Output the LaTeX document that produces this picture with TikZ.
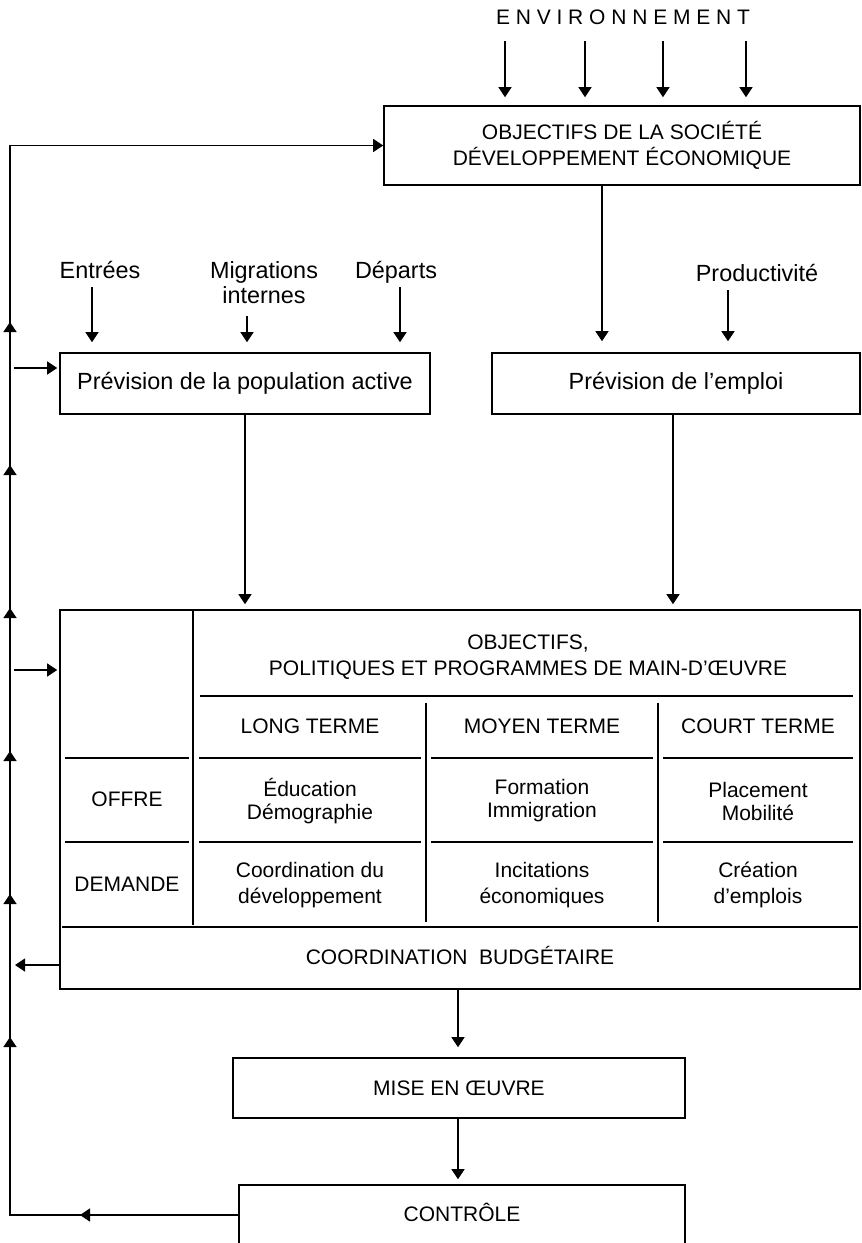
\documentclass[tikz,border=0pt]{standalone}
\usepackage{fontspec}
\setmainfont{Liberation Sans}
\usetikzlibrary{arrows.meta}
\begin{document}
\begin{tikzpicture}[x=0.5pt,y=-0.5pt,
  font=\fontsize{10.5}{13}\selectfont,
  tip/.style={-{Triangle[length=5pt,width=6.5pt]}},
  arr/.style={tip, line width=0.7pt},
  box/.style={draw, line width=0.8pt, align=center, inner sep=0pt},
  lbl/.style={align=center, inner sep=1pt},
  one/.style={text height=1.6ex, text depth=0.45ex},
  big/.style={font=\fontsize{11.7}{12.5}\selectfont},
  rule/.style={line width=0.7pt}]
\useasboundingbox (0,0) rectangle (862,1243);

% ---------- top ----------
\node[lbl, one] (env) at (623,18) {E\hspace{2.9pt}N\hspace{2.9pt}V\hspace{2.9pt}I\hspace{2.9pt}R\hspace{2.9pt}O\hspace{2.9pt}N\hspace{2.9pt}N\hspace{2.9pt}E\hspace{2.9pt}M\hspace{2.9pt}E\hspace{2.9pt}N\hspace{2.9pt}T};
\node[box, minimum width=238pt, minimum height=39.5pt] (obj) at (622,145.5)
  {OBJECTIFS DE LA SOCIÉTÉ\\DÉVELOPPEMENT ÉCONOMIQUE};

\foreach \x [count=\i] in {505,585,663,746} {
  \coordinate (e\i) at (\x,0);
  \draw[arr, shorten <=5pt, shorten >=4pt] (env.south -| e\i) -- (obj.north -| e\i);
}

% ---------- forecasts ----------
\node[lbl, one, big] (ent) at (100,272) {Entrées};
\node[lbl, big] (mig) at (264,283) {Migrations\\internes};
\node[lbl, one, big] (dep) at (396,272) {Départs};
\node[lbl, one, big] (prod) at (757,275) {Productivité};

\node[box, big, minimum width=185pt, minimum height=30.5pt] (pop) at (245,383.5) {Prévision de la population active};
\node[box, big, minimum width=184pt, minimum height=30.5pt] (emp) at (676,383.5) {Prévision de l’emploi};

\coordinate (xe) at (92,0);
\coordinate (xm) at (247,0);
\coordinate (xd) at (400,0);
\coordinate (xo) at (602,0);
\coordinate (xp) at (728,0);
\draw[arr, shorten <=1pt, shorten >=5pt] (ent.south -| xe) -- (pop.north -| xe);
\draw[arr, shorten <=5pt, shorten >=5pt] (mig.south -| xm) -- (pop.north -| xm);
\draw[arr, shorten <=1pt, shorten >=5pt] (dep.south -| xd) -- (pop.north -| xd);
\draw[arr, shorten >=5.5pt] (obj.south -| xo) -- (emp.north -| xo);
\draw[arr, shorten <=1pt, shorten >=5.5pt] (prod.south -| xp) -- (emp.north -| xp);

% ---------- table ----------
\node[draw, line width=0.8pt, minimum width=400pt, minimum height=189.5pt, inner sep=0pt] (tab) at (460,799.5) {};
\coordinate (xpop) at (245,0);
\coordinate (xemp) at (673,0);
\draw[arr, shorten >=2.5pt] (pop.south -| xpop) -- (tab.north -| xpop);
\draw[arr, shorten >=2.5pt] (emp.south -| xemp) -- (tab.north -| xemp);

\draw[rule] (193,610) -- (193,925);
\draw[rule] (426,703) -- (426,922);
\draw[rule] (658,703) -- (658,922);
\draw[rule] (200,696) -- (853,696);
\foreach \y in {758,842} {
  \draw[rule] (65,\y) -- (189,\y);
  \draw[rule] (199,\y) -- (421,\y);
  \draw[rule] (431,\y) -- (653,\y);
  \draw[rule] (663,\y) -- (853,\y);
}
\draw[rule] (62,927) -- (858,927);

\node[lbl] (title) at (528,657) {OBJECTIFS,\\POLITIQUES ET PROGRAMMES DE MAIN-D’ŒUVRE};
\node[lbl, one] (lt) at (310,727) {LONG TERME};
\node[lbl, one] (mt) at (542,727) {MOYEN TERME};
\node[lbl, one] (ct) at (758,727) {COURT TERME};
\node[lbl, one] (off) at (127,800) {OFFRE};
\node[lbl, font=\fontsize{10.5}{11.5}\selectfont] (off1) at (310,801) {Éducation\\Démographie};
\node[lbl, font=\fontsize{10.5}{11.5}\selectfont] (off2) at (542,801) {Formation\\Immigration};
\node[lbl, font=\fontsize{10.5}{11.5}\selectfont] (off3) at (758,801) {Placement\\Mobilité};
\node[lbl, one] (dem) at (127,885) {DEMANDE};
\node[lbl] (dem1) at (310,885) {Coordination du\\développement};
\node[lbl] (dem2) at (542,885) {Incitations\\économiques};
\node[lbl] (dem3) at (758,885) {Création\\d’emplois};
\node[lbl, one] (cb) at (460,958) {COORDINATION\ \ BUDGÉTAIRE};

% ---------- bottom ----------
\node[box, minimum width=226pt, minimum height=30pt] (mise) at (459,1088) {MISE EN ŒUVRE};
\node[box, minimum width=223pt, minimum height=35pt] (ctrl) at (462,1220) {};
\node[lbl, one] (ctrltxt) at (462,1215) {CONTRÔLE};
\coordinate (xb) at (458,0);
\draw[arr, shorten >=5pt] (tab.south -| xb) -- (mise.north -| xb);
\draw[arr, shorten >=2.5pt] (mise.south -| xb) -- (ctrl.north -| xb);

% ---------- feedback loop ----------
\coordinate (fbl) at (10,1215);
\coordinate (fbt) at (10,145.5);
\draw[arr] (ctrl.west |- ctrltxt) -- (fbl) -- (fbt) -- (obj.west);
% arrowheads along the loop
\coordinate (h0) at (80,1215);
\draw[arr] ([xshift=6pt]h0) -- (h0);
\foreach \y [count=\k] in {322,465,608,751,894,1037} {
  \coordinate (u\k) at (10,\y);
  \draw[arr] ([yshift=-6pt]u\k) -- (u\k);
}

\coordinate (f1) at (14,368);
\coordinate (f2) at (14,670);
\coordinate (f3) at (15,965);
\draw[arr, shorten >=1pt] (f1) -- (pop.west |- f1);
\draw[arr, shorten >=1pt] (f2) -- (tab.west |- f2);
\draw[arr] (tab.west |- f3) -- (f3);
\end{tikzpicture}
\end{document}
